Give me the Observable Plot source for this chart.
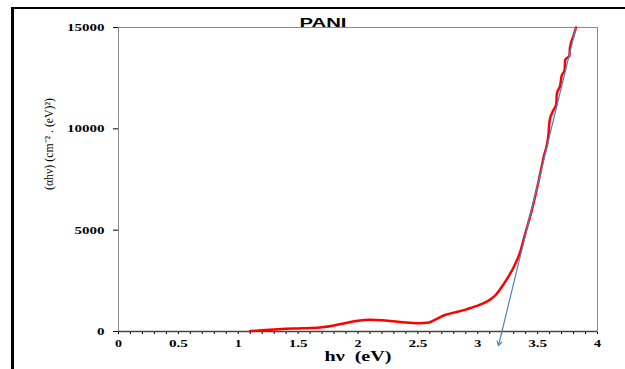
<!DOCTYPE html>
<html>
<head>
<meta charset="utf-8">
<script src="https://cdn.jsdelivr.net/npm/d3@7"></script>
<script src="https://cdn.jsdelivr.net/npm/@observablehq/plot@0.6"></script>
<style>
  html, body { margin: 0; padding: 0; background: #fff; }
  #wrap { position: relative; width: 625px; height: 369px; overflow: hidden; }
  #border { position: absolute; left: 11px; top: 7px; width: 640px; height: 400px;
            border-top: 2px solid #000; border-left: 3px solid #000; pointer-events: none; }
</style>
</head>
<body>
<div id="wrap"><div id="chart"></div><div id="border"></div></div>
<script>
// Red curve: photon energy hv (eV) and (αhν) values
const hv = [1.10, 1.20, 1.30, 1.40, 1.50, 1.60, 1.70, 1.80, 1.90, 2.00, 2.10, 2.20, 2.30, 2.40, 2.50, 2.58, 2.65, 2.72, 2.80, 2.90, 2.95, 3.00, 3.05, 3.10, 3.15, 3.20, 3.25, 3.30, 3.35, 3.40, 3.45, 3.50, 3.55, 3.59, 3.60, 3.63, 3.655, 3.66, 3.69, 3.70, 3.725, 3.73, 3.765, 3.77, 3.80, 3.82];
const alphaHv = [20, 60, 100, 130, 150, 170, 210, 300, 420, 530, 580, 560, 500, 440, 410, 430, 600, 800, 930, 1080, 1180, 1280, 1400, 1560, 1800, 2200, 2650, 3170, 3850, 4900, 5950, 7200, 8600, 9700, 10400, 10900, 11200, 11700, 12200, 12600, 12900, 13400, 13600, 14000, 14600, 15000];
// Blue tangent (linear fit) line with arrow, from top down to below axis
const fitX = [3.82, 3.173];
const fitY = [15000, -700];

const xTickLabels = [0, 0.5, 1, 1.5, 2, 2.5, 3, 3.5, 4];
const yTicks = [0, 5000, 10000, 15000];
const title = "PANI";
const xLabel = "hν  (eV)";
const yLabel = "(αhν) (cm⁻² . (eV)²)";

const data = hv.map((x, i) => ({x, y: alphaHv[i]}));
const fit = [{x1: fitX[0], y1: fitY[0], x2: fitX[1], y2: fitY[1]}];
const minorTicks = d3.range(0, 41).map(i => i / 10);
const isLabeled = d => xTickLabels.some(t => Math.abs(t - d) < 1e-6);

const chart = Plot.plot({
  width: 625,
  height: 369,
  marginLeft: 118,
  marginRight: 28,
  marginTop: 27,
  marginBottom: 38,
  style: {fontFamily: "'Liberation Serif', 'Times New Roman', serif", fontWeight: "bold", fontSize: "11px", color: "#000", background: "#fff"},
  x: {domain: [0, 4], ticks: minorTicks, tickSize: 3, tickPadding: 5,
      tickFormat: d => isLabeled(d) ? String(+d.toFixed(1)) : "", label: null},
  y: {domain: [0, 15000], ticks: yTicks, tickSize: 5, tickPadding: 9, tickFormat: d => String(d), label: null},
  marks: [
    Plot.frame({stroke: "#8a8a8a"}),
    Plot.ruleY([0], {stroke: "#444", strokeWidth: 1.3}),
    Plot.line(data, {x: "x", y: "y", stroke: "#ff0000", strokeWidth: 2.5, curve: "monotone-x"}),
    Plot.arrow(fit, {x1: "x1", y1: "y1", x2: "x2", y2: "y2", stroke: "#4f81bd", strokeWidth: 1.2, headLength: 6})
  ]
});
document.getElementById("chart").appendChild(chart);

const svg = d3.select(chart);
// stretch tick labels like the reference's wide bold serif digits
svg.selectAll('[aria-label^="y-axis"] text').each(function() {
  const t = this.textContent;
  if (t) { this.setAttribute("textLength", t.length * 7.5); this.setAttribute("lengthAdjust", "spacingAndGlyphs"); }
});
svg.selectAll('[aria-label^="x-axis"] text').each(function() {
  const t = this.textContent;
  if (t) {
    const w = [...t].reduce((s, c) => s + (c === "." ? 5 : 7), 0);
    this.setAttribute("textLength", w); this.setAttribute("lengthAdjust", "spacingAndGlyphs");
  }
});

// Title
svg.append("text").attr("x", 323).attr("y", 27).attr("text-anchor", "middle")
  .attr("font-family", "'Liberation Sans', Arial, sans-serif").attr("font-weight", "bold").attr("font-size", 13)
  .attr("textLength", 47).attr("lengthAdjust", "spacingAndGlyphs").text(title);
// X label
svg.append("text").attr("x", 358).attr("y", 361).attr("text-anchor", "middle")
  .attr("font-weight", "bold").attr("font-size", 14)
  .attr("textLength", 67).attr("lengthAdjust", "spacingAndGlyphs").text(xLabel);
// Y label
svg.append("text").attr("transform", "translate(53,144) rotate(-90)").attr("text-anchor", "middle")
  .attr("font-weight", "normal").attr("font-size", 12)
  .attr("textLength", 92).attr("lengthAdjust", "spacingAndGlyphs").text(yLabel);
</script>
</body>
</html>
